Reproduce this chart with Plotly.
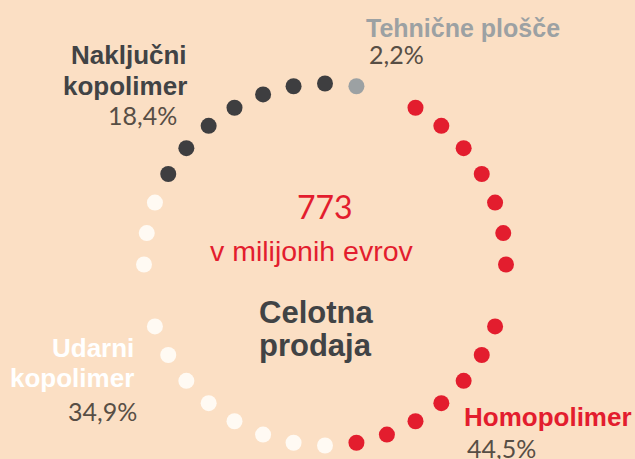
import math
import plotly.graph_objects as go

# ---- data ----
segments = ["Tehnične plošče", "Homopolimer", "Udarni kopolimer", "Naključni kopolimer"]
label_lines = [["Tehnične plošče"], ["Homopolimer"], ["Udarni", "kopolimer"], ["Naključni", "kopolimer"]]
shares = [2.2, 44.5, 34.9, 18.4]
share_labels = ["2,2%", "44,5%", "34,9%", "18,4%"]
dot_counts = [1, 14, 11, 7]
total_sales = 773
total_unit = "v milijonih evrov"
center_title = ["Celotna", "prodaja"]

# ---- style / layout ----
W, H = 635, 459
BG = "#fbdfc4"
seg_colors = ["#9ca1a3", "#e31d2e", "#fffaf3", "#3e3e40"]
label_colors = ["#9ca1a3", "#e31d2e", "#ffffff", "#414345"]
pct_color = "#574e45"
CX, CY, R = 325, 264.5, 181
N_SLOTS = 36
START_SLOT = 1
GAP_SLOTS = {2, 10, 26}

# assign dots to slots, clockwise from the top
slots = [(START_SLOT + k) % N_SLOTS for k in range(N_SLOTS)]
slots = [s for s in slots if s not in GAP_SLOTS]
fig = go.Figure()
pos = 0
for seg, n, col in zip(segments, dot_counts, seg_colors):
    xs, ys = [], []
    for s in slots[pos:pos + n]:
        a = math.radians(s * 360 / N_SLOTS)
        xs.append(CX + R * math.sin(a))
        ys.append(CY - R * math.cos(a))
    pos += n
    fig.add_trace(go.Scatter(x=xs, y=ys, mode="markers", name=seg,
                             marker=dict(size=16, color=col, line=dict(width=0)),
                             hoverinfo="name", showlegend=False))

BOLD = "Liberation Sans, Arial, sans-serif"
PCTF = "Lato, Open Sans, sans-serif"

def txt(x, y_base, s, size, color, family, anchor, bold=False):
    t = f"<b>{s}</b>" if bold else s
    fig.add_annotation(x=x, y=y_base - 0.36 * size, text=t, showarrow=False,
                       xref="x", yref="y", xanchor=anchor, yanchor="middle",
                       font=dict(size=size, color=color, family=family))

# segment labels: (x, anchor, baselines of lines, baseline of pct, pct x)
label_pos = [
    (364, "left", [37], 63, 367),
    (462, "left", [426], 457, 465),
    (136, "right", [357, 387], 420, 139),
    (189, "right", [64, 95], 124, 179),
]
for i, (x, anc, bases, pbase, px) in enumerate(label_pos):
    for line, b in zip(label_lines[i], bases):
        txt(x, b, line, 25 if i == 0 else 26, label_colors[i], BOLD, anc, bold=True)
    txt(px, pbase, share_labels[i], 25, pct_color, PCTF, anc)

# center texts
txt(325, 218, str(total_sales), 32, "#e31d2e", PCTF, "center")
txt(311.5, 261, total_unit, 28.5, "#e31d2e", BOLD, "center")
txt(315.5, 324, center_title[0], 31, "#414345", BOLD, "center", bold=True)
txt(315.5, 357, center_title[1], 31, "#414345", BOLD, "center", bold=True)

fig.update_layout(width=W, height=H, margin=dict(l=0, r=0, t=0, b=0),
                  paper_bgcolor=BG, plot_bgcolor=BG,
                  xaxis=dict(range=[0, W], visible=False, fixedrange=True),
                  yaxis=dict(range=[H, 0], visible=False, fixedrange=True))
fig.write_html("out.html", config={"displayModeBar": False},
               post_script="document.body.style.margin='0';document.body.style.overflow='hidden';"
                           "document.body.style.background='" + BG + "';")
